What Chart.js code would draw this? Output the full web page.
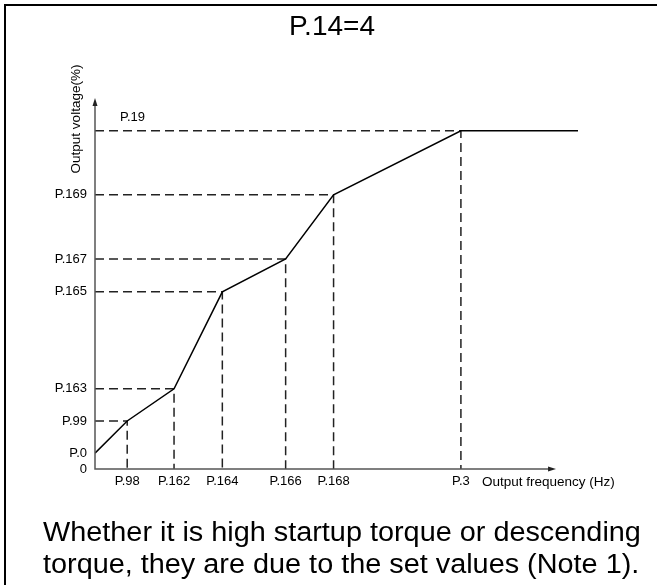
<!DOCTYPE html>
<html>
<head>
<meta charset="utf-8">
<script src="https://cdn.jsdelivr.net/npm/chart.js@4"></script>
<style>
  html, body { margin: 0; padding: 0; background: #fff; }
  canvas { display: block; }
</style>
</head>
<body>
<canvas id="vf-chart" width="657" height="585"></canvas>
<script>
// V/F curve for P.14=4 (five-point programmable curve)

// frequency breakpoints, in % of base frequency (P.3 = 100)
const freqLabels = ['P.98', 'P.162', 'P.164', 'P.166', 'P.168', 'P.3'];
const freqValues = [8.8, 21.6, 34.8, 52.1, 65.2, 100];

// voltage breakpoints, in % of P.19
const voltLabels = ['0', 'P.0', 'P.99', 'P.163', 'P.165', 'P.167', 'P.169', 'P.19'];
const voltValues = [0, 4.7, 14.2, 23.7, 52.4, 62.1, 81.1, 100];

const xMax = 132;      // curve runs flat past P.3 up to here
const xArrowAt = 126;  // where the frequency axis arrow ends
const yMax = 110;

// the curve: starts at P.0 then passes through each (freq, volt) pair
const curve = [{ x: 0, y: voltValues[1] }];
freqValues.forEach((f, i) => curve.push({ x: f, y: voltValues[i + 2] }));
curve.push({ x: xMax, y: voltValues[voltValues.length - 1] });

// dashed guide lines from each knee back to both axes
const guides = freqValues.map((f, i) => ({
    data: [{ x: 0, y: voltValues[i + 2] }, { x: f, y: voltValues[i + 2] }, { x: f, y: 0 }],
    borderColor: '#222',
    borderWidth: 1.5,
    borderDash: [9, 5],
    pointRadius: 0,
    fill: false
}));

const FONT = '"Liberation Sans", Arial, sans-serif';

const decorations = {
    id: 'decorations',
    beforeDraw(chart) {
        const ctx = chart.ctx;
        ctx.save();
        ctx.fillStyle = '#fff';
        ctx.fillRect(0, 0, chart.width, chart.height);
        ctx.restore();
    },
    afterDraw(chart) {
        const ctx = chart.ctx;
        const xs = chart.scales.x;
        const ys = chart.scales.y;
        const x0 = xs.getPixelForValue(0);
        const y0 = ys.getPixelForValue(0);
        const xEnd = xs.getPixelForValue(xArrowAt);
        const yEnd = ys.getPixelForValue(yMax) + 1;

        ctx.save();

        // frame (left and top edges only)
        ctx.strokeStyle = '#000';
        ctx.lineWidth = 2;
        ctx.beginPath();
        ctx.moveTo(5, chart.height);
        ctx.lineTo(5, 5);
        ctx.lineTo(chart.width, 5);
        ctx.stroke();

        // axes with arrow heads
        ctx.strokeStyle = '#555';
        ctx.fillStyle = '#222';
        ctx.lineWidth = 1.5;
        ctx.beginPath();
        ctx.moveTo(x0, yEnd + 6);
        ctx.lineTo(x0, y0);
        ctx.lineTo(xEnd - 6, y0);
        ctx.stroke();
        ctx.beginPath();
        ctx.moveTo(x0, yEnd);
        ctx.lineTo(x0 - 2.5, yEnd + 8);
        ctx.lineTo(x0 + 2.5, yEnd + 8);
        ctx.closePath();
        ctx.fill();
        ctx.beginPath();
        ctx.moveTo(xEnd, y0);
        ctx.lineTo(xEnd - 8, y0 - 2.5);
        ctx.lineTo(xEnd - 8, y0 + 2.5);
        ctx.closePath();
        ctx.fill();

        ctx.fillStyle = '#000';

        // title
        ctx.font = '28px ' + FONT;
        ctx.textAlign = 'center';
        ctx.textBaseline = 'middle';
        ctx.fillText('P.14=4', 332, 27);

        // axis titles
        ctx.font = '13.5px ' + FONT;
        ctx.save();
        ctx.translate(76, 119);
        ctx.rotate(-Math.PI / 2);
        ctx.fillText('Output voltage(%)', 0, 0);
        ctx.restore();

        ctx.textAlign = 'left';
        ctx.fillText('Output frequency (Hz)', 482, 482);

        // P.19 sits above its dashed line
        ctx.font = '13px ' + FONT;
        ctx.fillText(voltLabels[voltLabels.length - 1], x0 + 25, ys.getPixelForValue(100) - 13);

        // caption, slightly widened
        ctx.font = '27px ' + FONT;
        ctx.save();
        ctx.translate(43, 0);
        ctx.scale(1.068, 1);
        ctx.fillText('Whether it is high startup torque or descending', 0, 534);
        ctx.fillText('torque, they are due to the set values (Note 1).', 0, 566);
        ctx.restore();

        ctx.restore();
    }
};

new Chart(document.getElementById('vf-chart'), {
    type: 'line',
    data: {
        datasets: [{
            data: curve,
            borderColor: '#000',
            borderWidth: 1.5,
            pointRadius: 0,
            fill: false,
            tension: 0
        }, ...guides]
    },
    plugins: [decorations],
    options: {
        responsive: false,
        animation: false,
        events: [],
        layout: { padding: { left: 0, top: 97, right: 79, bottom: 0 } },
        plugins: {
            legend: { display: false },
            tooltip: { enabled: false },
            title: { display: false }
        },
        scales: {
            x: {
                type: 'linear',
                min: 0,
                max: xMax,
                grid: { display: false, drawTicks: false },
                border: { display: false },
                afterFit(scale) { scale.height = 116; },
                afterBuildTicks(scale) {
                    scale.ticks = freqValues.map(v => ({ value: v }));
                },
                ticks: {
                    autoSkip: false,
                    maxRotation: 0,
                    padding: 5,
                    color: '#000',
                    font: { family: FONT, size: 13 },
                    callback: (v) => freqLabels[freqValues.indexOf(v)]
                }
            },
            y: {
                type: 'linear',
                min: 0,
                max: yMax,
                grid: { display: false, drawTicks: false },
                border: { display: false },
                afterFit(scale) { scale.width = 95; },
                afterBuildTicks(scale) {
                    scale.ticks = voltValues.slice(0, -1).map(v => ({ value: v }));
                },
                ticks: {
                    autoSkip: false,
                    padding: 8,
                    color: '#000',
                    font: { family: FONT, size: 13 },
                    callback: (v) => voltLabels[voltValues.indexOf(v)]
                }
            }
        }
    }
});
</script>
</body>
</html>
